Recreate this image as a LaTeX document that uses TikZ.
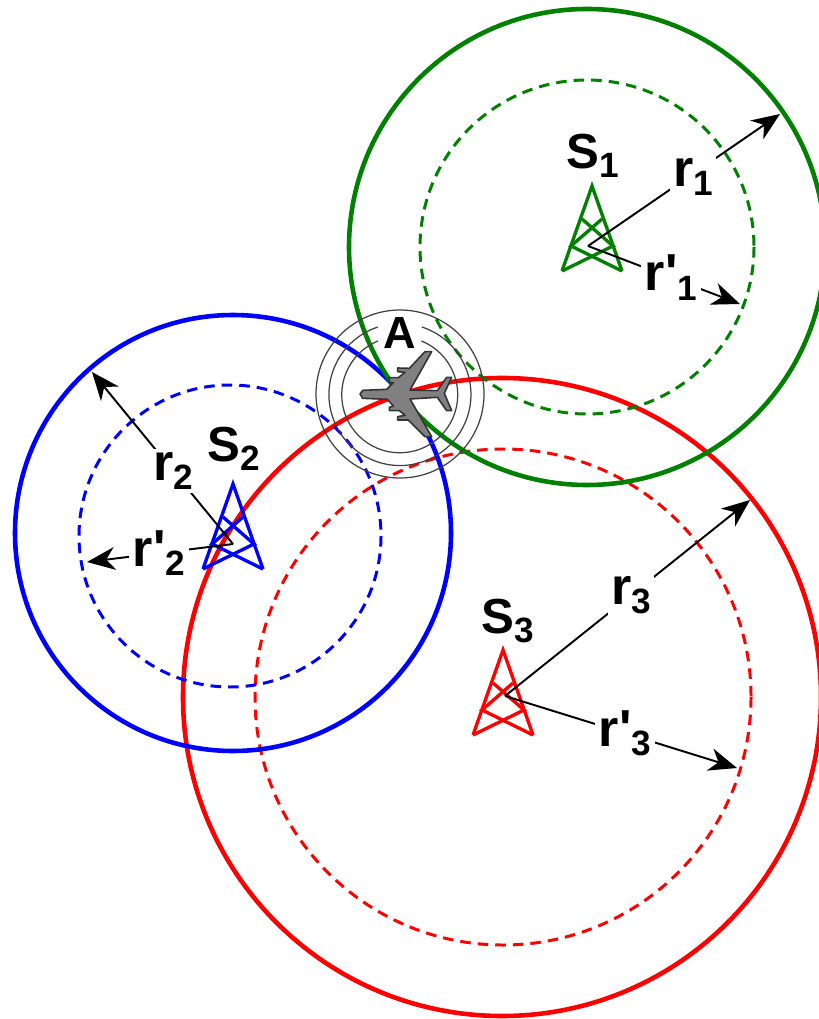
\documentclass[tikz,border=0pt]{standalone}
\usepackage{fontspec}
\setmainfont{Liberation Sans}
\usetikzlibrary{arrows.meta, calc}
\tikzset{every picture/.append style={thick}}
\newcommand{\biglabel}[2]{\fontsize{14.8}{16}\selectfont\bfseries #1\raisebox{-2.6pt}{\fontsize{10}{11}\selectfont #2}}
\newcommand{\stationlabel}[2]{\fontsize{14}{16}\selectfont\bfseries #1\raisebox{-2.6pt}{\fontsize{10}{11}\selectfont #2}}
\begin{document}
\begin{tikzpicture}[x=0.01cm, y=-0.01cm]
        
        % Styles
        \tikzstyle{solidring} = [line width=1.3pt]
        \tikzstyle{dashring} = [line width=0.85pt, dash pattern=on 3pt off 2pt]
        \tikzstyle{rangearrow} = [draw=black, line width=0.55pt, -{Stealth[length=8pt,width=6.5pt,inset=2.5pt]}]
        \tikzstyle{ripple} = [draw=black!75, line width=0.35pt]
        \tikzstyle{rangelabel} = [fill=white, inner sep=1pt]
        \definecolor{stationgreen}{RGB}{0,128,0}
        \useasboundingbox (0,0) rectangle (819,1019);
        
        % Stations and arrow ends
        \coordinate (s1) at (588,246);
        \coordinate (s2) at (233,544);
        \coordinate (s3) at (505,696);
        \coordinate (r1end) at (780,114);
        \coordinate (q1end) at (740,304);
        \coordinate (r2end) at (92,372);
        \coordinate (q2end) at (87,562);
        \coordinate (r3end) at (750,500);
        \coordinate (q3end) at (737,768);
        \coordinate (plane) at (400,394);
        
        % Red circles
        \draw[red, solidring] (502,697) circle (319);
        \draw[red, dashring] (503,697) circle (248);
        
        % Blue circles
        \draw[blue, solidring] (233,533) circle (218);
        \draw[blue, dashring] (230,536) circle (151);
        
        % Green circles
        \draw[stationgreen, solidring] (587,247) circle (238);
        \draw[stationgreen, dashring] (587,247) circle (167);
        
        % Ripples around the plane
        \draw[ripple] (plane) circle (84);
        \draw[ripple] ($(plane)+(-22,-67)$) arc[start angle=-108, end angle=-432, radius=71];
        \draw[ripple] ($(plane)+(-22,-53)$) arc[start angle=-112, end angle=-428, radius=58];
        
        % Plane
        \begin{scope}[shift={(350,340)}, scale=0.3333]
            \draw[draw=black!80, fill=gray, line width=0.45pt, line join=round]
                (30,162) -- (38,151) -- (110,148) -- (130,128) -- (118,127) -- (118,113)
                -- (145,113) -- (165,97) -- (143,95) -- (143,84) -- (178,85) -- (225,35)
                -- (245,35) -- (180,150) -- (262,152) -- (290,112) -- (305,112) -- (283,160)
                -- (305,212) -- (290,212) -- (262,172) -- (180,177) -- (245,290) -- (225,290)
                -- (175,240) -- (143,240) -- (143,230) -- (165,226) -- (148,212) -- (118,212)
                -- (118,202) -- (130,198) -- (112,178) -- (38,175) -- cycle;
        \end{scope}
        \node[font=\fontsize{12.8}{14}\selectfont\bfseries] (planelabel) at (400,333) {A};
        
        % Towers
        \foreach \apexx/\apexy/\col in {592/186/stationgreen, 233/484/blue, 503/650/red} {
            \begin{scope}[shift={(\apexx,\apexy)}, line width=0.95pt, line join=miter]
                \draw[\col] (-30,85) -- (0,0) -- (30,85);
                \draw[\col] (-10,33) -- (21,60) -- (-30,85);
                \draw[\col] (10,33) -- (-21,60) -- (30,85);
            \end{scope}
        }
        
        % Range arrows
        \draw[rangearrow] (s1) -- (r1end) node[pos=0.547, rangelabel, yshift=-1pt] {\biglabel{r}{1}};
        \draw[rangearrow] (s1) -- (q1end) node[pos=0.546, rangelabel] {\biglabel{r\textquotesingle}{1}};
        \draw[rangearrow] (s2) -- (r2end) node[pos=0.425, rangelabel] {\biglabel{r}{2}};
        \draw[rangearrow] (s2) -- (q2end) node[pos=0.507, rangelabel] {\biglabel{r\textquotesingle}{2}};
        \draw[rangearrow] (s3) -- (r3end) node[pos=0.514, rangelabel] {\biglabel{r}{3}};
        \draw[rangearrow] (s3) -- (q3end) node[pos=0.517, rangelabel] {\biglabel{r\textquotesingle}{3}};
        
        % Station names
        \node (s1label) at (593,156) {\stationlabel{S}{1}};
        \node (s2label) at (234,449) {\stationlabel{S}{2}};
        \node (s3label) at (508,621) {\stationlabel{S}{3}};
        
    \end{tikzpicture}
\end{document}
